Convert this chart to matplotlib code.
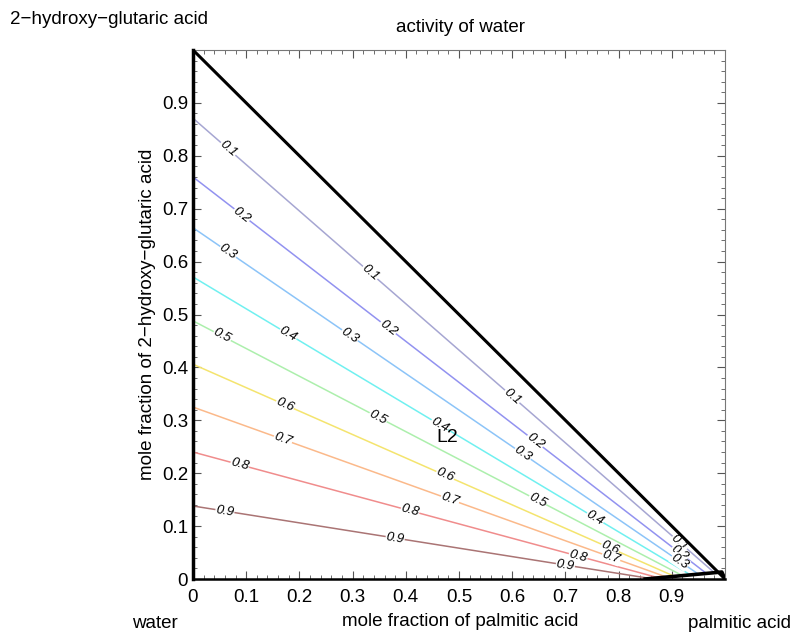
import numpy as np
import matplotlib
matplotlib.use("Agg")
import matplotlib.pyplot as plt
from matplotlib.ticker import MultipleLocator

plt.rcParams['font.family'] = ['Liberation Sans', 'DejaVu Sans']

# water activity isolines: start on the y axis, end on the lower phase boundary
aw_levels = [0.1, 0.2, 0.3, 0.4, 0.5, 0.6, 0.7, 0.8, 0.9]
y_start = [0.871, 0.760, 0.664, 0.571, 0.488, 0.406, 0.325, 0.240, 0.138]
x_end = [0.98, 0.965, 0.95, 0.935, 0.92, 0.905, 0.89, 0.875, 0.86]
y_end = [0.0119, 0.0105, 0.0092, 0.0078, 0.0064, 0.0050, 0.0037, 0.0023, 0.0009]
line_colors = ['#a6a6d2', '#9292f0', '#8cc4f8', '#70f0f0', '#acefac',
               '#f4e46e', '#fbb98a', '#f08c8c', '#aa7474']

# x positions of the inline labels on each isoline
label_x = [
    [0.066, 0.333, 0.60, 0.915],
    [0.092, 0.367, 0.643, 0.915],
    [0.066, 0.295, 0.62, 0.915],
    [0.179, 0.464, 0.756],
    [0.055, 0.348, 0.648],
    [0.173, 0.474, 0.784],
    [0.169, 0.483, 0.786],
    [0.088, 0.408, 0.724],
    [0.06, 0.38, 0.70],
]

# phase boundaries
hyp_x = [0.0, 1.0]
hyp_y = [1.0, 0.0]
low_x = [0.85, 0.994, 1.0]
low_y = [0.0, 0.0132, 0.0]

tick_vals = [0, 0.1, 0.2, 0.3, 0.4, 0.5, 0.6, 0.7, 0.8, 0.9]
tick_text = ['0', '0.1', '0.2', '0.3', '0.4', '0.5', '0.6', '0.7', '0.8', '0.9']

fig = plt.figure(figsize=(8.1, 6.41), dpi=100)
ax = fig.add_axes([193 / 810, 62 / 641, 532 / 810, 529 / 641])
ax.set_xlim(0, 1)
ax.set_ylim(0, 1)

for lev, y0, x1, y1, c, lx in zip(aw_levels, y_start, x_end, y_end, line_colors, label_x):
    ax.plot([0, x1], [y0, y1], color=c, lw=1.1, zorder=2)
    p0 = ax.transData.transform((0, y0))
    p1 = ax.transData.transform((x1, y1))
    ang = np.degrees(np.arctan2(p1[1] - p0[1], p1[0] - p0[0]))
    for x in lx:
        y = y0 + (y1 - y0) * x / x1
        ax.text(x, y, f"{lev:g}", fontsize=9.5, style='italic', rotation=ang,
                rotation_mode='anchor', ha='center', va='center', zorder=3,
                bbox=dict(fc='white', ec='none', pad=0.3))

ax.plot(hyp_x, hyp_y, color='black', lw=2.2, zorder=4, solid_capstyle='butt')
ax.plot(low_x, low_y, color='black', lw=2.6, zorder=4)

ax.text(0.477, 0.268, "L2", fontsize=14, ha='center', va='center', zorder=5)

ax.set_xticks(tick_vals)
ax.set_xticklabels(tick_text)
ax.set_yticks(tick_vals)
ax.set_yticklabels(tick_text)
ax.xaxis.set_minor_locator(MultipleLocator(0.02))
ax.yaxis.set_minor_locator(MultipleLocator(0.02))
ax.tick_params(which='both', direction='in', top=True, right=True,
               labelsize=13.5, color='#555555')
ax.tick_params(which='major', length=6, width=0.8)
ax.tick_params(which='minor', length=3, width=0.6)
ax.tick_params(axis='x', pad=7)

ax.spines['left'].set_linewidth(2.5)
ax.spines['bottom'].set_linewidth(1.8)
ax.spines['top'].set_color('#777777')
ax.spines['right'].set_color('#777777')
ax.spines['top'].set_linewidth(0.8)
ax.spines['right'].set_linewidth(0.8)

ax.set_ylabel("mole fraction of 2\u2212hydroxy\u2212glutaric acid", fontsize=13.5, labelpad=4)

fig.text(10 / 810, 1 - 20 / 641, "2\u2212hydroxy\u2212glutaric acid", fontsize=13.5,
         ha='left', va='center')
fig.text(460 / 810, 1 - 27 / 641, "activity of water", fontsize=13.5,
         ha='center', va='center')
fig.text(155 / 810, 1 - 624 / 641, "water", fontsize=13.5, ha='center', va='center')
fig.text(460 / 810, 1 - 622 / 641, "mole fraction of palmitic acid", fontsize=13.5,
         ha='center', va='center')
fig.text(740 / 810, 1 - 623 / 641, "palmitic acid", fontsize=13.5,
         ha='center', va='center')

fig.savefig("out.png", dpi=100)
